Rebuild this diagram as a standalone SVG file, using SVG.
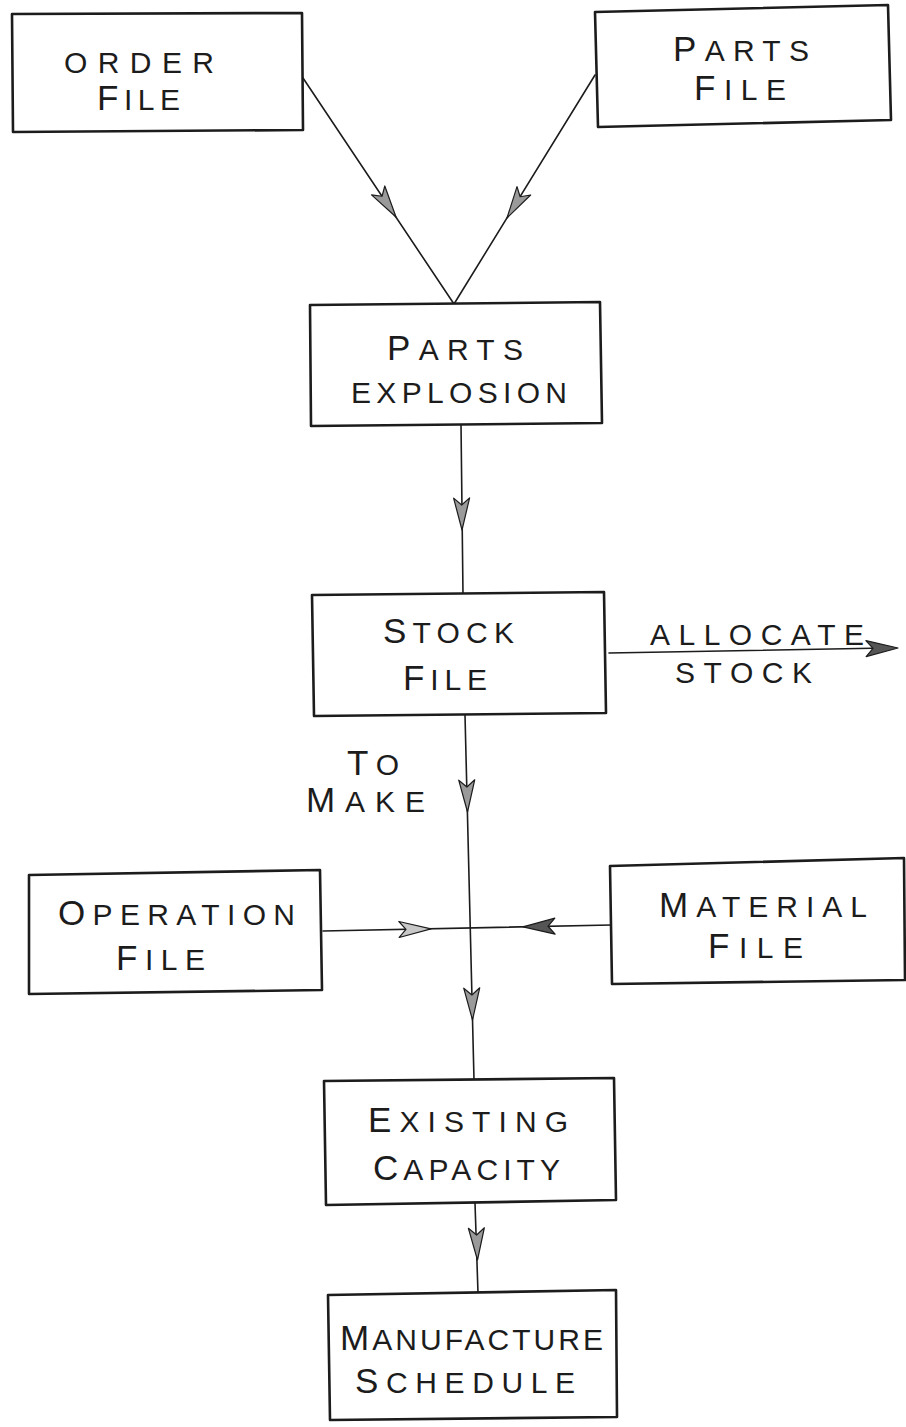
<svg xmlns="http://www.w3.org/2000/svg" xmlns:xlink="http://www.w3.org/1999/xlink" width="906" height="1427" viewBox="0 0 906 1427">
<style>
.bg{fill:#ffffff}
.box{fill:#ffffff;stroke:#1c1c1c;stroke-width:2.6;stroke-linejoin:round}
.line{fill:none;stroke:#1c1c1c;stroke-width:1.6;stroke-linecap:round}
.lbl{font-family:"Liberation Sans","DejaVu Sans",sans-serif;font-size:30px;fill:#1c1c1c;font-weight:normal}
.big{font-size:35px}
.dart{stroke:#1c1c1c;stroke-width:1.2;stroke-linejoin:round}
.lt{fill:#c8c8c8}
.md{fill:#9a9a9a}
.dk{fill:#555555}
</style>
<defs>
<path id="dart" d="M0,0 L-32,-8 L-25,0 L-32,8 Z"/>
</defs>
<rect class="bg" x="0" y="0" width="906" height="1427"/>

<g id="connectors">
<line class="line" x1="303" y1="78" x2="454" y2="304"/>
<line class="line" x1="595" y1="75" x2="454" y2="304"/>
<line class="line" x1="461" y1="424" x2="463" y2="594"/>
<line class="line" x1="609" y1="653" x2="886" y2="648"/>
<line class="line" x1="465" y1="715" x2="474" y2="1080"/>
<line class="line" x1="323" y1="931" x2="611" y2="925"/>
<line class="line" x1="475" y1="1203" x2="478" y2="1293"/>
<use xlink:href="#dart" class="dart md" transform="translate(396,217) rotate(56.1)"/>
<use xlink:href="#dart" class="dart md" transform="translate(507,218) rotate(121.7)"/>
<use xlink:href="#dart" class="dart md" transform="translate(462,530) rotate(89.3)"/>
<use xlink:href="#dart" class="dart dk" transform="translate(898,648) rotate(-1)"/>
<use xlink:href="#dart" class="dart md" transform="translate(467.5,812) rotate(88.6)"/>
<use xlink:href="#dart" class="dart lt" transform="translate(431,928.8) rotate(-1.2)"/>
<use xlink:href="#dart" class="dart dk" transform="translate(523,926.8) rotate(178.8)"/>
<use xlink:href="#dart" class="dart md" transform="translate(472.5,1020) rotate(88.6)"/>
<use xlink:href="#dart" class="dart md" transform="translate(477.5,1260) rotate(88)"/>
</g>

<g id="order-file">
<polygon class="box" points="12,14 302,13 303,130 13,132"/>
<text class="lbl" x="64" y="73" textLength="150" lengthAdjust="spacing">ORDER</text>
<text class="lbl" x="97" y="110" textLength="83" lengthAdjust="spacing"><tspan class="big">F</tspan>ILE</text>
</g>

<g id="parts-file">
<polygon class="box" points="595,12 888,5 891,120 598,127"/>
<text class="lbl" x="673" y="61" textLength="136" lengthAdjust="spacing"><tspan class="big">P</tspan>ARTS</text>
<text class="lbl" x="694" y="100" textLength="92" lengthAdjust="spacing"><tspan class="big">F</tspan>ILE</text>
</g>

<g id="parts-explosion">
<polygon class="box" points="310,305 600,302 602,423 311,426"/>
<text class="lbl" x="387" y="360" textLength="136" lengthAdjust="spacing"><tspan class="big">P</tspan>ARTS</text>
<text class="lbl" x="351" y="403" textLength="216" lengthAdjust="spacing">EXPLOSION</text>
</g>

<g id="stock-file">
<polygon class="box" points="312,595 604,592 606,713 314,716"/>
<text class="lbl" x="383" y="643" textLength="131" lengthAdjust="spacing"><tspan class="big">S</tspan>TOCK</text>
<text class="lbl" x="403" y="690" textLength="84" lengthAdjust="spacing"><tspan class="big">F</tspan>ILE</text>
</g>

<g id="allocate-stock-label">
<text class="lbl" x="650" y="645" textLength="214" lengthAdjust="spacing">ALLOCATE</text>
<text class="lbl" x="675" y="683" textLength="137" lengthAdjust="spacing">STOCK</text>
</g>

<g id="to-make-label">
<text class="lbl" x="347" y="775" textLength="52" lengthAdjust="spacing"><tspan class="big">T</tspan>O</text>
<text class="lbl" x="306" y="812" textLength="119" lengthAdjust="spacing"><tspan class="big">M</tspan>AKE</text>
</g>

<g id="operation-file">
<polygon class="box" points="29,875 320,870 322,990 29,994"/>
<text class="lbl" x="58" y="925" textLength="237" lengthAdjust="spacing"><tspan class="big">O</tspan>PERATION</text>
<text class="lbl" x="116" y="970" textLength="89" lengthAdjust="spacing"><tspan class="big">F</tspan>ILE</text>
</g>

<g id="material-file">
<polygon class="box" points="610,866 904,858 905,980 612,984"/>
<text class="lbl" x="659" y="917" textLength="208" lengthAdjust="spacing"><tspan class="big">M</tspan>ATERIAL</text>
<text class="lbl" x="708" y="958" textLength="95" lengthAdjust="spacing"><tspan class="big">F</tspan>ILE</text>
</g>

<g id="existing-capacity">
<polygon class="box" points="324,1081 614,1078 616,1200 326,1205"/>
<text class="lbl" x="368" y="1132" textLength="200" lengthAdjust="spacing"><tspan class="big">E</tspan>XISTING</text>
<text class="lbl" x="373" y="1180" textLength="187" lengthAdjust="spacing"><tspan class="big">C</tspan>APACITY</text>
</g>

<g id="manufacture-schedule">
<polygon class="box" points="328,1295 616,1290 617,1417 330,1420"/>
<text class="lbl" x="340" y="1350" textLength="263" lengthAdjust="spacing"><tspan class="big">M</tspan>ANUFACTURE</text>
<text class="lbl" x="355" y="1393" textLength="220" lengthAdjust="spacing"><tspan class="big">S</tspan>CHEDULE</text>
</g>
</svg>
